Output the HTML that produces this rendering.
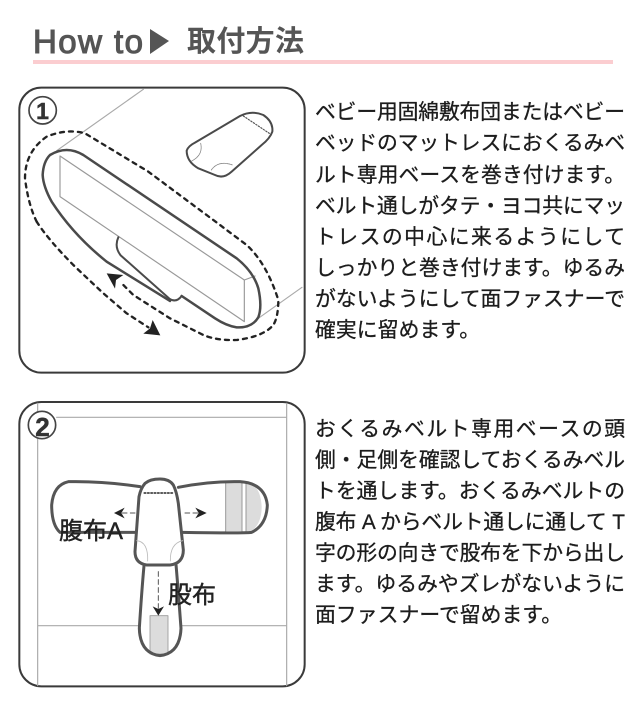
<!DOCTYPE html>
<html lang="ja"><head><meta charset="utf-8"><title>How to 取付方法</title>
<style>
html,body{margin:0;padding:0;background:#fff;width:640px;height:715px;overflow:hidden}
svg{display:block}
text{font-family:"Liberation Sans","Noto Sans CJK JP",sans-serif}
.t{font-size:20.8px;fill:#1c1c1c;stroke:#1c1c1c;stroke-width:.3px}
</style></head><body>
<svg width="640" height="715" viewBox="0 0 640 715" xmlns="http://www.w3.org/2000/svg">
<text x="33" y="53" font-size="33" fill="#555" stroke="#555" stroke-width="1.1" textLength="110" lengthAdjust="spacing">How to</text>
<polygon points="150,29 169,41 150,54" fill="#555"/>
<text x="187" y="51" font-size="29" font-weight="700" fill="#555" style="font-family:'Noto Sans CJK JP',sans-serif" textLength="117" lengthAdjust="spacing">取付方法</text>
<rect x="33" y="60" width="580" height="4" fill="#fbcdd0"/>

<g transform="translate(10,80) scale(.33333)" fill="none" stroke-linecap="round" stroke-linejoin="round">
<rect x="28" y="23" width="856" height="855" rx="66" fill="#fff" stroke="#3a3a3a" stroke-width="6"/>
<path d="M140 212L400 28M745 715L876 622" stroke="#aaa" stroke-width="3.500"/>
<path d="M150 228L703 600V725L150 350Z" stroke="#999" stroke-width="3.500"/>
<path d="M703 600L735 588" stroke="#999" stroke-width="3.500"/>
<path d="M515 648L615 715Q650 738 680 742Q725 745 745 712Q757 680 745 625Q730 575 680 535L220 225Q170 195 120 225Q100 245 98 285Q100 320 125 365Q190 465 290 545L480 663" stroke="#4a4a4a" stroke-width="7.500"/>
<path d="M325 472Q312 500 332 526L478 656Q498 670 515 648" stroke="#4a4a4a" stroke-width="6"/>
<path d="M80 425Q55 375 45 295Q45 215 110 170Q170 145 225 160L415 275L630 435L710 495Q770 550 805 660Q805 710 790 735Q760 770 680 780Q620 782 580 765L480 715L370 645L330 605" stroke="#222" stroke-width="7" stroke-dasharray="12 15"/>
<path d="M80 425Q115 480 195 560L280 640L350 700L415 742" stroke="#222" stroke-width="7" stroke-dasharray="12 15"/>
<polygon points="290,580 340,585 318,600 315,626" fill="#222"/>
<polygon points="428,720 451,766 400,761 420,745" fill="#222"/>
<path d="M530 212Q535 198 555 188L690 108Q725 90 760 105Q790 125 787 155Q780 175 755 195L665 275Q640 298 615 285L565 265Q530 245 530 212Z" stroke="#4a4a4a" stroke-width="6" fill="#fff"/>
<path d="M700 108L778 160" stroke="#555" stroke-width="3.500" stroke-dasharray="4 5"/>
<path d="M572 190Q580 225 545 243M604 270Q625 240 668 255" stroke="#888" stroke-width="2.500" stroke-dasharray="4 2"/>
<circle cx="98" cy="91" r="41" fill="#fff" stroke="#444" stroke-width="5"/>
</g>
<text x="42.500" y="119" text-anchor="middle" font-size="23" font-weight="700" fill="#333" stroke="#333" stroke-width=".5">1</text>

<g transform="translate(10,395) scale(.33333)" fill="none" stroke-linecap="round" stroke-linejoin="round">
<rect x="28" y="21" width="856" height="853" rx="66" fill="#fff" stroke="#3a3a3a" stroke-width="6"/>
<path d="M83 25V872M830 25V872M140 67H830M83 692H830" stroke="#aaa" stroke-width="3.500"/>
<path d="M390 275Q280 258 175 260Q130 270 125 355Q130 395 145 410H380V515H402Q395 590 388 700Q390 775 450 782Q510 775 513 700Q505 590 498 510H515V412H730Q770 390 770 315Q760 265 690 260Q600 258 505 277Z" fill="#fff"/>
<path d="M647 262H715Q752 275 755 335Q755 385 725 408H647Z" fill="#dcdcdc"/>
<path d="M696 262H708V410H696Z" fill="#fff"/>
<path d="M647 262V410M696 262V410M708 262V410" stroke="#999" stroke-width="3"/>
<rect x="420" y="662" width="54" height="115" fill="#dcdcdc" stroke="#999" stroke-width="2.500"/>
<path d="M390 275Q280 258 175 260Q130 270 125 330Q125 390 150 412H380" stroke="#555" stroke-width="9"/>
<path d="M505 277Q600 258 690 260Q765 265 772 330Q770 390 725 412Q700 415 515 412" stroke="#555" stroke-width="9"/>
<path d="M402 512Q395 590 388 700Q390 775 450 782Q510 775 513 700Q505 590 498 508" stroke="#555" stroke-width="9"/>
<path d="M405 265Q420 252 450 252Q478 252 490 270Q500 290 505 325L520 465Q520 505 480 510H410Q375 505 375 470L387 305Q392 280 405 265Z" fill="#fff" stroke="#555" stroke-width="9"/>
<path d="M403 294H492" stroke="#444" stroke-width="5.500" stroke-dasharray="4 6"/>
<path d="M380 437Q415 440 413 498M518 437Q480 445 481 498" stroke="#bbb" stroke-width="2.500"/>
<path d="M375 354H330M525 354H565M445 530V640" stroke="#555" stroke-width="3" stroke-dasharray="14 10"/>
<polygon points="312,354 344,338 334,354 344,370" fill="#222"/>
<polygon points="590,354 556,338 566,354 556,370" fill="#222"/>
<polygon points="445,662 428,634 445,642 462,634" fill="#222"/>
<circle cx="96" cy="90" r="41" fill="#fff" stroke="#444" stroke-width="5"/>
</g>
<text x="42.500" y="436" text-anchor="middle" font-size="26" font-weight="700" fill="#333" stroke="#333" stroke-width=".5">2</text>
<text x="59" y="539" font-size="24" fill="#222" stroke="#222" stroke-width=".4" textLength="64" lengthAdjust="spacing">腹布A</text>
<text x="168" y="603" font-size="24" fill="#222" stroke="#222" stroke-width=".4" textLength="48" lengthAdjust="spacing">股布</text>

<g>
<text class="t" x="315" y="119" textLength="310" lengthAdjust="spacing">ベビー用固綿敷布団またはベビー</text>
<text class="t" x="315" y="150" textLength="310" lengthAdjust="spacing">ベッドのマットレスにおくるみベ</text>
<text class="t" x="315" y="182" textLength="310" lengthAdjust="spacing">ルト専用ベースを巻き付けます。</text>
<text class="t" x="315" y="213" textLength="310" lengthAdjust="spacing">ベルト通しがタテ・ヨコ共にマッ</text>
<text class="t" x="315" y="244" textLength="310" lengthAdjust="spacing">トレスの中心に来るようにして</text>
<text class="t" x="315" y="275" textLength="310" lengthAdjust="spacing">しっかりと巻き付けます。ゆるみ</text>
<text class="t" x="315" y="306" textLength="310" lengthAdjust="spacing">がないようにして面ファスナーで</text>
<text class="t" x="315" y="337" textLength="165" lengthAdjust="spacing">確実に留めます。</text>
<text class="t" x="315" y="436" textLength="310" lengthAdjust="spacing">おくるみベルト専用ベースの頭</text>
<text class="t" x="315" y="467" textLength="310" lengthAdjust="spacing">側・足側を確認しておくるみベル</text>
<text class="t" x="315" y="498" textLength="310" lengthAdjust="spacing">トを通します。おくるみベルトの</text>
<text class="t" x="315" y="529" textLength="310" lengthAdjust="spacing">腹布 A からベルト通しに通して T</text>
<text class="t" x="315" y="560" textLength="310" lengthAdjust="spacing">字の形の向きで股布を下から出し</text>
<text class="t" x="315" y="591" textLength="310" lengthAdjust="spacing">ます。ゆるみやズレがないように</text>
<text class="t" x="315" y="622" textLength="247" lengthAdjust="spacing">面ファスナーで留めます。</text>
</g>
</svg>
</body></html>
